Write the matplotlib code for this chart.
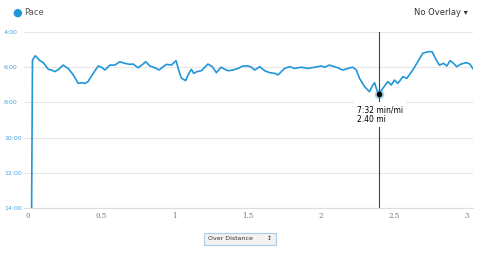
import matplotlib
matplotlib.use('Agg')
import matplotlib.pyplot as plt

# Pace (min/mi) against distance (mi)
distance = [0.025, 0.031, 0.05, 0.082, 0.105, 0.139, 0.16, 0.184, 0.21, 0.24,
            0.275, 0.31, 0.343, 0.366, 0.39, 0.41, 0.446, 0.48, 0.503, 0.526,
            0.56, 0.594, 0.628, 0.662, 0.696, 0.719, 0.753, 0.783, 0.805, 0.833,
            0.867, 0.896, 0.924, 0.947, 0.98, 1.012, 1.037, 1.05, 1.078, 1.094,
            1.117, 1.133, 1.156, 1.185, 1.23, 1.26, 1.288, 1.32, 1.345, 1.367,
            1.40, 1.435, 1.47, 1.504, 1.527, 1.55, 1.584, 1.618, 1.652, 1.686,
            1.709, 1.732, 1.754, 1.788, 1.822, 1.868, 1.914, 1.959, 2.005, 2.027,
            2.06, 2.107, 2.152, 2.186, 2.22, 2.244, 2.266, 2.30, 2.334, 2.357,
            2.369, 2.38, 2.398, 2.425, 2.46, 2.483, 2.505, 2.528, 2.562, 2.589,
            2.63, 2.664, 2.698, 2.733, 2.762, 2.79, 2.812, 2.84, 2.862, 2.885,
            2.908, 2.93, 2.96, 2.995, 3.02, 3.04]
pace = [14.0, 5.6, 5.35, 5.63, 5.74, 6.12, 6.16, 6.25, 6.12, 5.88,
        6.07, 6.44, 6.92, 6.88, 6.92, 6.82, 6.35, 5.93, 6.0, 6.16,
        5.88, 5.88, 5.69, 5.78, 5.84, 5.82, 6.03, 5.84, 5.69, 5.93,
        6.03, 6.16, 5.97, 5.84, 5.88, 5.63, 6.35, 6.63, 6.76, 6.44,
        6.12, 6.35, 6.25, 6.2, 5.82, 5.97, 6.31, 6.0, 6.12, 6.2,
        6.16, 6.07, 5.93, 5.93, 6.0, 6.16, 5.97, 6.2, 6.31, 6.35,
        6.44, 6.25, 6.07, 5.97, 6.07, 6.0, 6.07, 6.0, 5.93, 6.0,
        5.88, 6.0, 6.16, 6.07, 6.0, 6.16, 6.63, 7.1, 7.39, 7.01,
        6.88, 7.2, 7.53, 7.2, 6.82, 7.01, 6.73, 6.92, 6.54, 6.63,
        6.16, 5.69, 5.21, 5.12, 5.12, 5.59, 5.88, 5.78, 5.93, 5.63,
        5.78, 5.97, 5.82, 5.74, 5.82, 6.07]

y_ticks = [4, 6, 8, 10, 12, 14]
y_labels = ['4:00', '6:00', '8:00', '10:00', '12:00', '14:00']
x_ticks = [0, 0.5, 1, 1.5, 2, 2.5, 3]
x_labels = ['0', '0.5', '1', '1.5', '2', '2.5', '3']

cursor_dist, cursor_pace = 2.40, 7.53
cursor_text = '7:32 min/mi\n2.40 mi'

blue = '#2196d8'

fig = plt.figure(figsize=(4.8, 2.54), dpi=100)
ax = fig.add_axes([0.05, 0.181, 0.935, 0.693])

ax.plot(distance, pace, color=blue, lw=1.2, solid_joinstyle='round')

ax.set_xlim(-0.027, 3.04)
ax.set_ylim(14, 4)
ax.set_yticks(y_ticks)
ax.set_yticklabels(y_labels, color='#4aa3dc', fontsize=4.5, ha='left')
ax.set_xticks(x_ticks)
ax.set_xticklabels(x_labels, color='#777777', fontsize=5, family='DejaVu Serif')
ax.tick_params(length=0)
ax.tick_params(axis='x', pad=3)
ax.tick_params(axis='y', pad=14.4)
ax.grid(axis='y', color='#e6e6e6', lw=0.8)
for s in ['top', 'right', 'left']:
    ax.spines[s].set_visible(False)
ax.spines['bottom'].set_color('#dddddd')
ax.set_axisbelow(True)

# Hover cursor
ax.axvline(cursor_dist, color='#444444', lw=0.8, zorder=3)
ax.plot(cursor_dist, cursor_pace, 'o', ms=6, color=blue, alpha=0.3, zorder=4)
ax.plot(cursor_dist, cursor_pace, 'o', ms=3, color='black', zorder=5)
ax.annotate(cursor_text, (cursor_dist, cursor_pace), xytext=(-16, -8),
            textcoords='offset points', va='top', ha='left', fontsize=5.5,
            linespacing=1.1, zorder=6,
            bbox=dict(boxstyle='square,pad=0.4', fc='white', ec='none'))

# Header: legend and overlay selector
fig.text(0.035, 0.952, '\u25cf', color=blue, fontsize=8, ha='center', va='center')
fig.text(0.05, 0.952, 'Pace', color='#555555', fontsize=6, va='center')
fig.text(0.975, 0.952, 'No Overlay \u25be', color='#333333', fontsize=6,
         ha='right', va='center')

# Mode dropdown below the chart
fig.text(0.5, 0.06, 'Over Distance       \u2195', color='#333333', fontsize=4.5,
         ha='center', va='center',
         bbox=dict(boxstyle='square,pad=0.6', fc='#f2f2f2', ec='#a9cde8', lw=0.8))

fig.savefig('out.png', dpi=100)
